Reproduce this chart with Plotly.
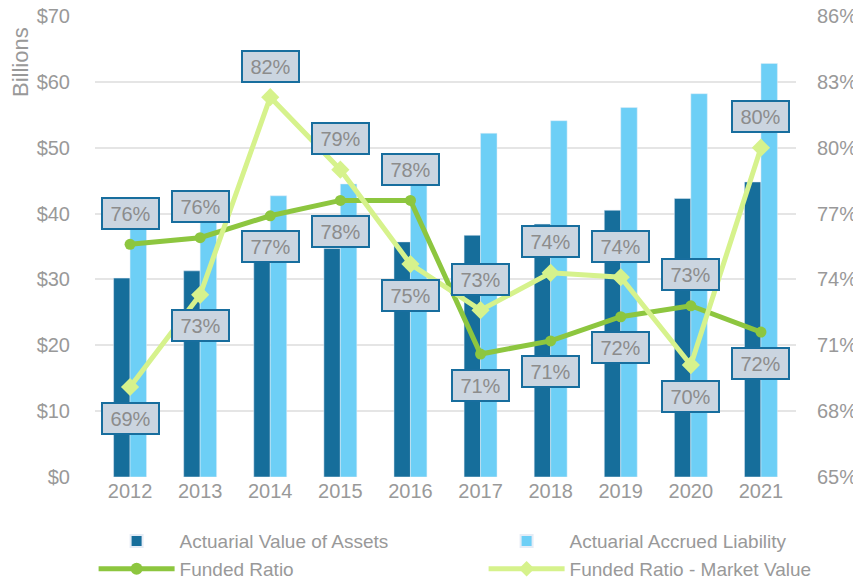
import plotly.graph_objects as go

years = ["2012", "2013", "2014", "2015", "2016", "2017", "2018", "2019", "2020", "2021"]
assets = [30.2, 31.3, 32.9, 34.7, 35.7, 36.7, 38.4, 40.5, 42.3, 44.8]
liability = [39.7, 41.2, 42.7, 44.5, 45.8, 52.2, 54.1, 56.1, 58.2, 62.8]
funded_ratio = [75.6, 75.9, 76.9, 77.6, 77.6, 70.6, 71.2, 72.3, 72.8, 71.6]
funded_ratio_mv = [69.1, 73.3, 82.3, 79.0, 74.7, 72.6, 74.3, 74.1, 70.1, 80.0]
fr_label_pos = ["above", "above", "below", "below", "above", "below", "below", "below", "above", "below"]
mv_label_pos = ["below", "below", "above", "above", "below", "above", "above", "above", "below", "above"]

TXT = "#999999"
FONT = "Liberation Sans, Arial, sans-serif"

# page body has an 8px margin, so the figure is sized/offset to compensate
W, H = 853, 573
ML, MR, MT, MB = 87, 65, 8, 104
PW, PH = W - ML - MR, H - MT - MB

fig = go.Figure()
fig.add_trace(go.Bar(x=years, y=assets, name="Actuarial Value of Assets",
                     marker=dict(color="#166E9B")))
fig.add_trace(go.Bar(x=years, y=liability, name="Actuarial Accrued Liability",
                     marker=dict(color="#6DCFF6")))
fig.add_trace(go.Scatter(x=years, y=funded_ratio, name="Funded Ratio", yaxis="y2",
                         mode="lines+markers", line=dict(color="#8DC63F", width=5),
                         marker=dict(symbol="circle", size=11, color="#8DC63F")))
fig.add_trace(go.Scatter(x=years, y=funded_ratio_mv, name="Funded Ratio - Market Value", yaxis="y2",
                         mode="lines+markers", line=dict(color="#D6F28C", width=5),
                         marker=dict(symbol="diamond", size=14, color="#D6F28C")))

annotations = []
for series, positions in ((funded_ratio, fr_label_pos), (funded_ratio_mv, mv_label_pos)):
    for i, (v, p) in enumerate(zip(series, positions)):
        annotations.append(dict(
            x=i, y=v, xref="x", yref="y2", text=f"{round(v)}%", showarrow=False,
            yshift=31 if p == "above" else -31,
            font=dict(size=20, color="#8C8C8C", family=FONT),
            bgcolor="#CBD5E0", bordercolor="#186E9E", borderwidth=2, borderpad=1,
            width=53, height=27))
annotations.append(dict(x=(20 - 95) / PW, y=1 - (62 - 16) / PH, xref="paper", yref="paper",
                        text="Billions", showarrow=False, textangle=-90,
                        xanchor="center", yanchor="middle",
                        font=dict(size=22, color=TXT, family=FONT)))

fig.update_layout(
    width=W, height=H,
    margin=dict(l=ML, r=MR, t=MT, b=MB, autoexpand=False),
    paper_bgcolor="white", plot_bgcolor="white",
    barmode="group", bargap=0.53, bargroupgap=0,
    font=dict(family=FONT, size=20, color=TXT),
    xaxis=dict(type="category", categoryorder="array", categoryarray=years,
               range=[-0.5, len(years) - 0.5],
               showgrid=False, showline=False, zeroline=False, ticks="",
               tickfont=dict(size=20, color=TXT)),
    yaxis=dict(range=[0, 70], tick0=0, dtick=10, tickprefix="$", showgrid=True, gridcolor="#E5E5E5",
               gridwidth=1.5, zeroline=False, showline=False, ticklabeloverflow="allow",
               ticks="outside", ticklen=20, tickcolor="rgba(0,0,0,0)",
               tickfont=dict(size=20, color=TXT)),
    yaxis2=dict(range=[65, 86], tick0=65, dtick=3, ticksuffix="%", overlaying="y", side="right",
                showgrid=False, zeroline=False, showline=False, ticklabeloverflow="allow",
                ticks="outside", ticklen=16, tickcolor="rgba(0,0,0,0)",
                tickfont=dict(size=20, color=TXT)),
    legend=dict(orientation="h", x=-0.002, xanchor="left", y=-0.098, yanchor="top",
                entrywidth=299, entrywidthmode="pixels", font=dict(size=19, color=TXT),
                traceorder="normal", itemwidth=76, itemsizing="constant"),
    annotations=annotations,
    showlegend=True,
)

fig.write_html("out.html")
